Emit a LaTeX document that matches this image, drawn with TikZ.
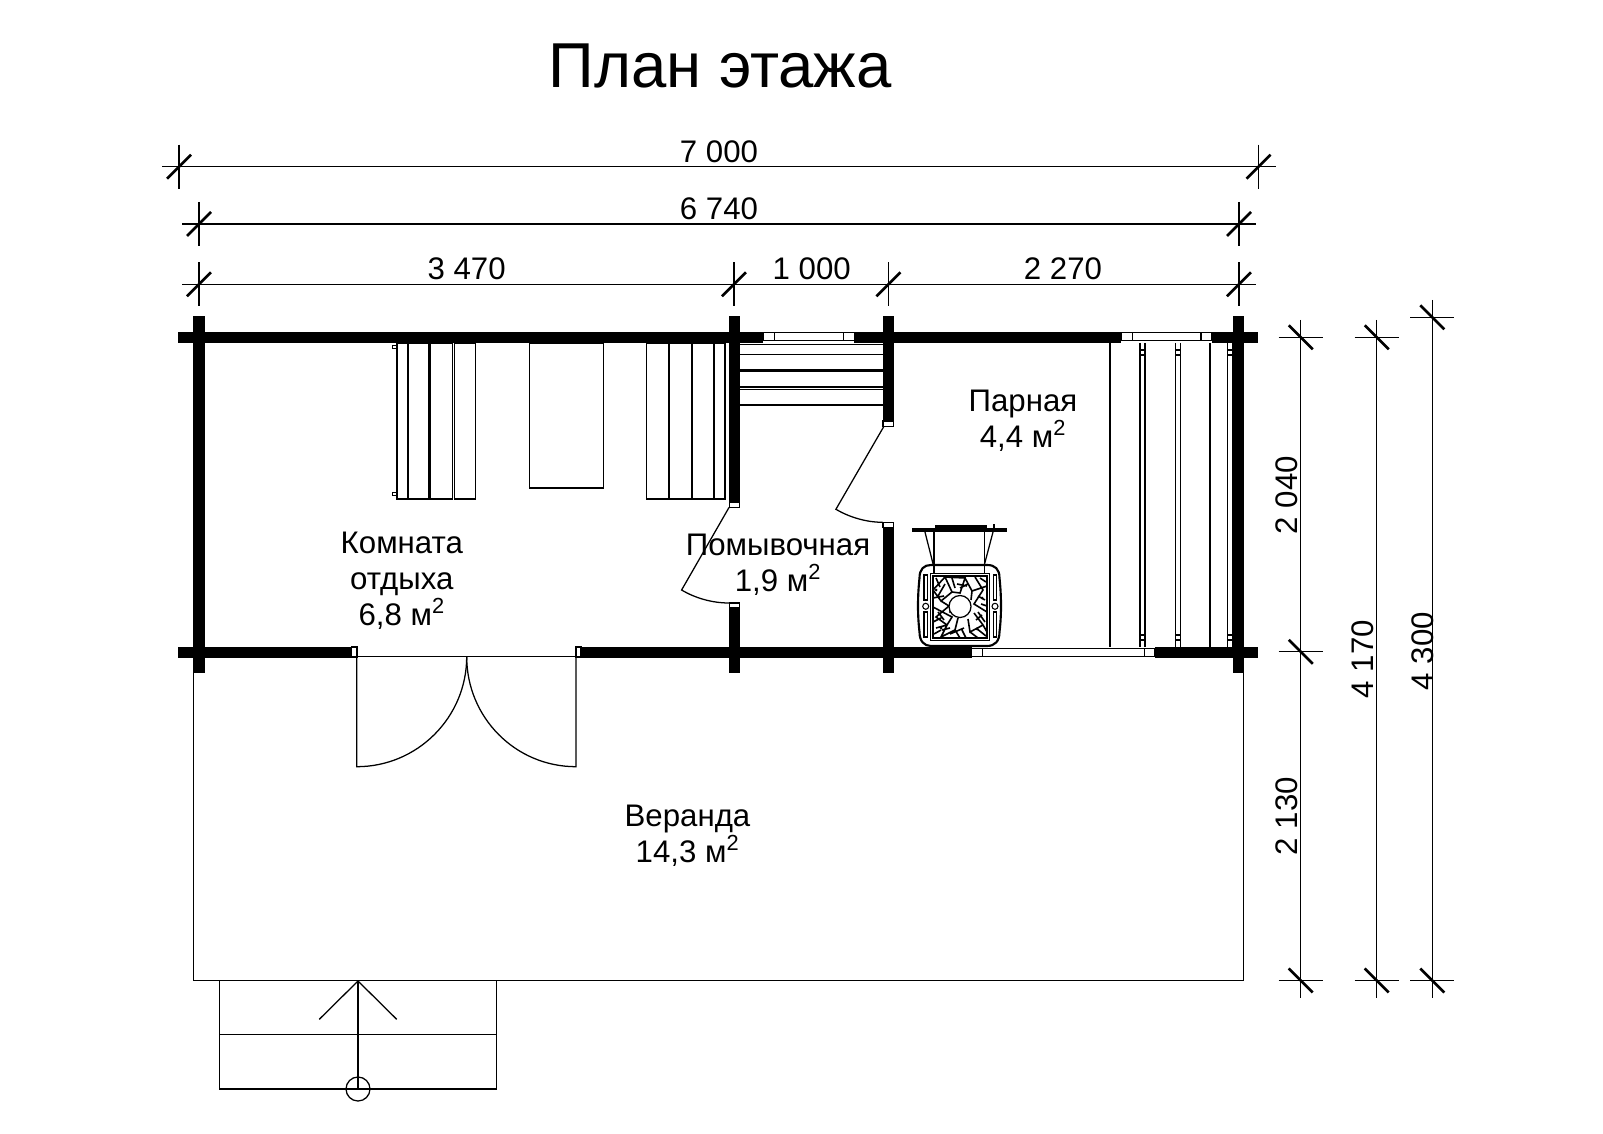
\documentclass[tikz,border=0pt]{standalone}
\usepackage{fontspec}
\setmainfont{Liberation Sans}
\tikzset{
    thinline/.style={line width=0.95pt, color=black},
    tickmark/.style={line width=2pt, color=black},
    jamb/.style={draw=black, fill=white, line width=0.8pt},
    dimlabel/.style={inner sep=0pt, font=\fontsize{23.4}{27}\selectfont},
    roomlabel/.style={inner sep=0pt, align=center, font=\fontsize{23.4}{27}\selectfont},
}
\begin{document}
\begin{tikzpicture}[x=0.75pt, y=-0.75pt]
    \useasboundingbox (0,0) rectangle (1603,1134);
    \fill[white] (0,0) rectangle (1603,1134);
    \node[inner sep=0pt, font=\fontsize{47.6}{50}\selectfont] (title) at (720,66) {План этажа};
    % horizontal dimensions
    \foreach \xa/\ya in {179/166.7, 1258.5/166.7, 199/224, 1239/224, 199/284.3, 734/284.3, 888.4/284.3, 1239/284.3} {
        \draw[thinline] (\xa,\ya-22) -- (\xa,\ya+22);
        \draw[tickmark] (\xa-12,\ya+12) -- (\xa+12,\ya-12);
    }
    \draw[thinline] (162,166.7) -- (1276,166.7);
    \draw[thinline] (182,224) -- (1256,224);
    \draw[thinline] (182,284.3) -- (1256,284.3);
    \node[dimlabel] (dimall) at (719,151.5) {7 000};
    \node[dimlabel] (diminner) at (719,208.5) {6 740};
    \node[dimlabel] (dimrest) at (466.6,269) {3 470};
    \node[dimlabel] (dimwash) at (811.7,269) {1 000};
    \node[dimlabel] (dimsteam) at (1063,269) {2 270};
    % vertical dimensions
    \foreach \xa/\ya in {1300.7/337.3, 1300.7/651.8, 1300.7/980.5, 1376.7/337.3, 1376.7/980.5, 1432.3/317.3, 1432.3/980.5} {
        \draw[thinline] (\xa-22,\ya) -- (\xa+22,\ya);
        \draw[tickmark] (\xa-12,\ya-12) -- (\xa+12,\ya+12);
    }
    \draw[thinline] (1300.7,320) -- (1300.7,997.5);
    \draw[thinline] (1376.7,320) -- (1376.7,997.5);
    \draw[thinline] (1432.3,300) -- (1432.3,997.5);
    \node[dimlabel, rotate=90] (dimupper) at (1287,495) {2 040};
    \node[dimlabel, rotate=90] (dimlower) at (1287,816) {2 130};
    \node[dimlabel, rotate=90] (dimmid) at (1363,659) {4 170};
    \node[dimlabel, rotate=90] (dimfull) at (1423,651) {4 300};
    % furniture
    \foreach \xa/\xb in {397/429, 430.6/452.6, 454.2/475.7, 646.8/668.2, 669.8/691.2, 692.8/714, 714/725} {
        \draw[thinline] (\xa,343) rectangle (\xb,499);
    }
    \draw[thinline] (408,343) -- (408,499);
    \foreach \ya in {347, 494} {
        \draw[thinline] (392.5,\ya-1.5) rectangle (397,\ya+1.5);
    }
    \draw[thinline] (529.7,343) rectangle (603.6,488);
    \foreach \ya in {344.3, 354.3, 370, 371.8, 387, 389.5, 405} {
        \draw[thinline] (739.8,\ya) -- (882.5,\ya);
    }
    \foreach \xa in {1110, 1140, 1145, 1175.7, 1180.7, 1210, 1227.7, 1232.3} {
        \draw[thinline] (\xa,343) -- (\xa,647);
    }
    \foreach \xa/\xb in {1140/1145, 1175.7/1180.7, 1227.7/1232.3} {
        \foreach \ya in {350, 355, 635, 640} {
            \draw[thinline] (\xa,\ya) -- (\xb,\ya);
        }
    }
    % walls
    \fill[black] (178,331.7) rectangle (763.3,343);
    \fill[black] (854.3,331.7) rectangle (1121,343);
    \fill[black] (1211.7,331.7) rectangle (1258.4,343);
    \fill[black] (178,646.7) rectangle (351.7,658.3);
    \fill[black] (581,646.7) rectangle (971.7,658.3);
    \fill[black] (1155,646.7) rectangle (1258.4,658.3);
    \fill[black] (193.3,316) rectangle (204.8,673);
    \fill[black] (1232.7,316) rectangle (1243.8,673);
    \fill[black] (728.7,316) rectangle (739.8,502);
    \fill[black] (728.7,608) rectangle (739.8,673);
    \fill[black] (882.5,316) rectangle (894,421);
    \fill[black] (882.5,527.3) rectangle (894,673);
    % windows
    \draw[jamb] (763.3,332.3) rectangle (774.3,340.3);
    \draw[jamb] (774.3,332.3) rectangle (843.3,340.3);
    \draw[jamb] (843.3,332.3) rectangle (854.3,340.3);
    \draw[jamb] (1121,332.3) rectangle (1132.3,340.3);
    \draw[jamb] (1132.3,332.3) rectangle (1201,340.3);
    \draw[jamb] (1201,332.3) rectangle (1211.7,340.3);
    \draw[jamb] (971.7,648.3) rectangle (982.3,656.5);
    \draw[jamb] (982.3,648.3) rectangle (1144.3,656.5);
    \draw[jamb] (1144.3,648.3) rectangle (1155,656.5);
    % door jambs
    \draw[jamb] (351.7,647) rectangle (357,657);
    \draw[jamb] (576,647) rectangle (581,657);
    \draw[jamb] (729.2,502) rectangle (739.3,507.5);
    \draw[jamb] (729.2,603) rectangle (739.3,608);
    \draw[jamb] (883,421) rectangle (893.5,426.7);
    \draw[jamb] (883,522.7) rectangle (893.5,527.3);
    % doors
    \draw[thinline] (729,507.5) -- (681.6,590) .. controls (695,598) and (712,603) .. (729,603);
    \draw[thinline] (883.7,426.7) -- (835.9,509.3) .. controls (849,517) and (866,522.3) .. (882.5,522.3);
    \draw[thinline] (351.7,656.7) -- (581,656.7);
    \draw[thinline] (356.7,656.7) -- (356.7,766.7) .. controls (417.4,766.7) and (466.7,717.4) .. (466.7,656.7);
    \draw[thinline] (576,656.7) -- (576,766.7) .. controls (515.3,766.7) and (466.7,717.4) .. (466.7,656.7);
    % stove
    \fill[black] (911.7,528.3) rectangle (1006.7,532.3);
    \fill[black] (935,525) rectangle (986.7,528.5);
    \fill[black] (993.2,523.5) rectangle (995,530);
    \draw[thinline] (925,532) -- (933.3,565);
    \draw[thinline] (993,532) -- (984.3,565);
    \draw[thinline] (934,532) -- (934,574);
    \draw[thinline] (984.3,532) -- (984.3,574);
    \draw[line width=1.6pt] (919.5,578) .. controls (919.5,569) and (924,565) .. (931,565) -- (987,565) .. controls (995,565) and (999.5,569) .. (999.5,578) .. controls (1001.5,597) and (1001.5,615) .. (999.5,632) .. controls (999.5,641) and (995,646) .. (987,646) -- (931,646) .. controls (924,646) and (919.5,641) .. (919.5,632) .. controls (917.5,615) and (917.5,597) .. (919.5,578);
    \draw[line width=1.3pt] (930.5,573.5) rectangle (989.5,640.5);
    \draw[thinline] (933,576) rectangle (987,638);
    \foreach \xa in {925.7, 995} {
        \draw[line width=0.8pt] (\xa-1.7,575) rectangle (\xa+1.7,600);
        \draw[line width=0.8pt] (\xa-1.7,612) rectangle (\xa+1.7,637);
        \draw[line width=0.8pt] (\xa,606.3) circle (3);
    }
    \draw[line width=1.2pt] (933,590) -- (945,577) -- (952,592) -- (941,601) -- (933,590)
        (945,577) -- (965,578) -- (960,593) -- (952,592)
        (965,578) -- (972,591) -- (987,586) (972,591) -- (971,600)
        (975,577) -- (983,590) -- (974,604) -- (987,612)
        (941,601) -- (949,606) -- (936,617) -- (947,625) -- (952,617) -- (933,607)
        (974,613) -- (983,625) -- (970,632) -- (968,619)
        (947,625) -- (941,637) -- (955,630) -- (960,638)
        (955,630) -- (958,618) (970,632) -- (978,638)
        (936,628) -- (947,625) (983,625) -- (987,632)
        (945,584) -- (938,596) (957,584) -- (967,586) (978,596) -- (985,600)
        (938,612) -- (944,620) (976,620) -- (982,615) (950,634) -- (964,628)
        (936,578) -- (940,587) (952,578) -- (955,588) (968,584) -- (960,588)
        (980,578) -- (986,582) (933,598) -- (944,596) (981,604) -- (987,606)
        (933,622) -- (941,618) (942,630) -- (950,628) (962,630) -- (966,638)
        (976,628) -- (986,636) (978,612) -- (985,622) (934,634) -- (941,630);
    \fill[black] (936,590) circle (1.5) (982,598) circle (1.5) (941,628) circle (1.5) (977,629) circle (1.5) (950,612) circle (1.2);
    \draw[thinline, fill=white] (960,606.5) circle (11);
    % veranda
    \draw[thinline] (193.7,673) -- (193.7,980.7) -- (1243.5,980.7) -- (1243.5,673);
    \node[roomlabel] (rest) at (401.8,581) {Комната\\отдыха\\6,8 м\textsuperscript{2}};
    \node[roomlabel] (steam) at (1023,421) {Парная\\4,4 м\textsuperscript{2}};
    \node[roomlabel] (wash) at (778,565) {Помывочная\\1,9 м\textsuperscript{2}};
    \node[roomlabel] (veranda) at (687.5,836) {Веранда\\14,3 м\textsuperscript{2}};
    % steps
    \draw[thinline] (219.3,980.7) -- (219.3,1089) -- (496.7,1089) -- (496.7,980.7);
    \draw[thinline] (219.3,1034.7) -- (496.7,1034.7);
    \draw[thinline] (358,981) -- (358,1089);
    \draw[thinline] (319.3,1019.3) -- (358,981) -- (396.7,1019.3);
    \draw[thinline] (358,1089) circle (12);
\end{tikzpicture}
\end{document}
